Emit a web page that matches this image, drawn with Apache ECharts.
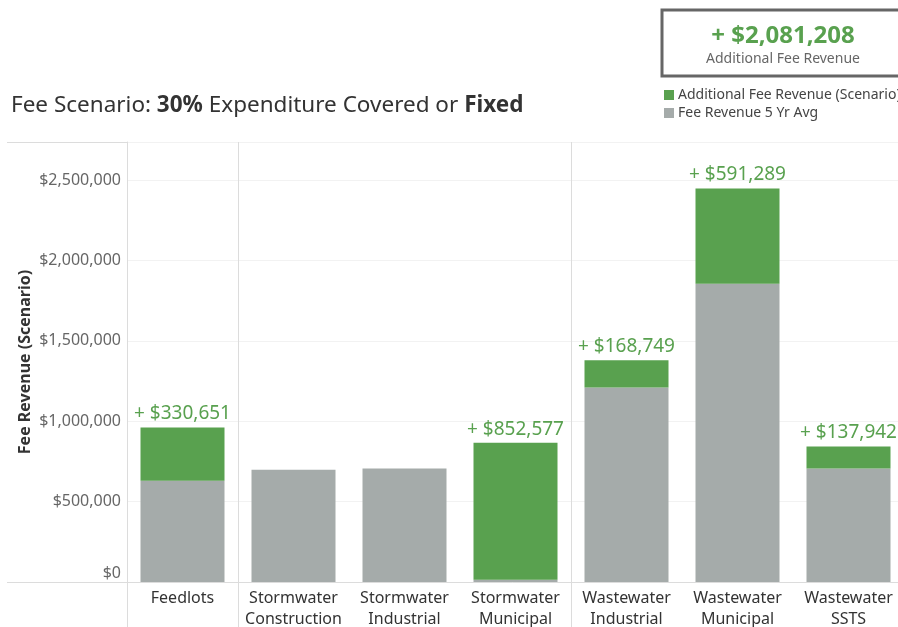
<!DOCTYPE html>
<html>
<head>
<meta charset="utf-8">
<script src="https://cdn.jsdelivr.net/npm/echarts@6/dist/echarts.min.js"></script>
<style>
  html, body { margin: 0; padding: 0; background: #fff; }
  #chart { width: 898px; height: 627px; }
</style>
</head>
<body>
<div id="chart"></div>
<script>
const categories = ["Feedlots", "Stormwater\nConstruction", "Stormwater\nIndustrial", "Stormwater\nMunicipal",
  "Wastewater\nIndustrial", "Wastewater\nMunicipal", "Wastewater\nSSTS"]
const avgRevenue = [630000, 698000, 705000, 14000, 1210000, 1855000, 705000]
const additionalRevenue = [330651, 0, 0, 852577, 168749, 591289, 137942]
const yTicks = [0, 500000, 1000000, 1500000, 2000000, 2500000]
const groupStarts = [0, 1, 4]

const green = "#59a14f"
const gray = "#a5abaa"
const font = "Noto Sans"

const money = v => "$" + Math.round(v).toLocaleString("en-US")
const total = additionalRevenue.reduce((a, b) => a + b, 0)

const chart = echarts.init(document.getElementById("chart"))

chart.setOption({
  animation: false,
  textStyle: { fontFamily: font },
  title: {
    left: 6,
    top: 89,
    text: "{n|Fee Scenario: }{b|30%}{n| Expenditure Covered or }{b|Fixed}",
    textStyle: {
      fontWeight: "normal",
      rich: {
        n: { fontSize: 22.5, color: "#333", fontWeight: "normal", fontFamily: font },
        b: { fontSize: 22.5, color: "#333", fontWeight: "bold", fontFamily: font }
      }
    }
  },
  legend: {
    orient: "vertical",
    left: 659,
    top: 83,
    icon: "rect",
    itemWidth: 10,
    itemHeight: 10,
    itemGap: 4,
    data: ["Additional Fee Revenue (Scenario)", "Fee Revenue 5 Yr Avg"],
    textStyle: { fontSize: 14, color: "#444", fontFamily: font, padding: [0, 0, 0, -1] }
  },
  graphic: [
    {
      type: "rect",
      shape: { x: 662, y: 10, width: 250, height: 66 },
      style: { fill: "#fff", stroke: "#666", lineWidth: 3 }
    },
    {
      type: "text",
      x: 783, y: 36,
      style: {
        text: "+ " + money(total), fill: green, font: "bold 24px '" + font + "'",
        align: "center", verticalAlign: "middle"
      }
    },
    {
      type: "text",
      x: 783, y: 59,
      style: {
        text: "Additional Fee Revenue", fill: "#666", font: "14px '" + font + "'",
        align: "center", verticalAlign: "middle"
      }
    },
    {
      type: "line",
      shape: { x1: 7, y1: 142.5, x2: 898, y2: 142.5 },
      style: { stroke: "#dcdcdc", lineWidth: 1 }
    },
    {
      type: "line",
      shape: { x1: 7, y1: 582.5, x2: 127, y2: 582.5 },
      style: { stroke: "#dcdcdc", lineWidth: 1 }
    }
  ],
  grid: { left: 127, top: 142, width: 777, height: 440, containLabel: false, outerBoundsMode: "none" },
  xAxis: {
    type: "category",
    data: categories,
    axisLine: { lineStyle: { color: "#dcdcdc" } },
    axisTick: {
      show: true,
      length: 45,
      inside: false,
      interval: (i) => groupStarts.includes(i),
      lineStyle: { color: "#dcdcdc" }
    },
    splitLine: {
      show: true,
      interval: (i) => groupStarts.includes(i),
      lineStyle: { color: "#dcdcdc" }
    },
    axisLabel: { color: "#333", fontSize: 16, lineHeight: 21, margin: 6, interval: 0 }
  },
  yAxis: {
    type: "value",
    min: 0,
    max: 2736000,
    interval: 500000,
    name: "Fee Revenue (Scenario)",
    nameLocation: "middle",
    nameGap: 102,
    nameMoveOverlap: false,
    nameTextStyle: { fontSize: 16, fontWeight: "bold", color: "#333", verticalAlign: "middle" },
    axisLine: { show: true, lineStyle: { color: "#dcdcdc" } },
    axisTick: { show: false },
    splitLine: { lineStyle: { color: "#f2f2f2" } },
    axisLabel: {
      color: "#666",
      fontSize: 16,
      margin: 6,
      formatter: v => v === 0 ? "{z|" + money(v) + "}" : (yTicks.includes(v) ? money(v) : ""),
      rich: {
        z: { color: "#666", fontSize: 16, padding: [0, 0, 18, 0] }
      }
    }
  },
  series: [
    {
      name: "Fee Revenue 5 Yr Avg",
      type: "bar",
      stack: "fee",
      barWidth: 84,
      itemStyle: { color: gray },
      data: avgRevenue
    },
    {
      name: "Additional Fee Revenue (Scenario)",
      type: "bar",
      stack: "fee",
      barWidth: 84,
      itemStyle: { color: green },
      data: additionalRevenue,
      label: {
        show: true,
        position: "top",
        distance: 4,
        color: green,
        fontSize: 19,
        formatter: p => p.value > 0 ? "+ " + money(p.value) : ""
      }
    }
  ]
})
</script>
</body>
</html>
